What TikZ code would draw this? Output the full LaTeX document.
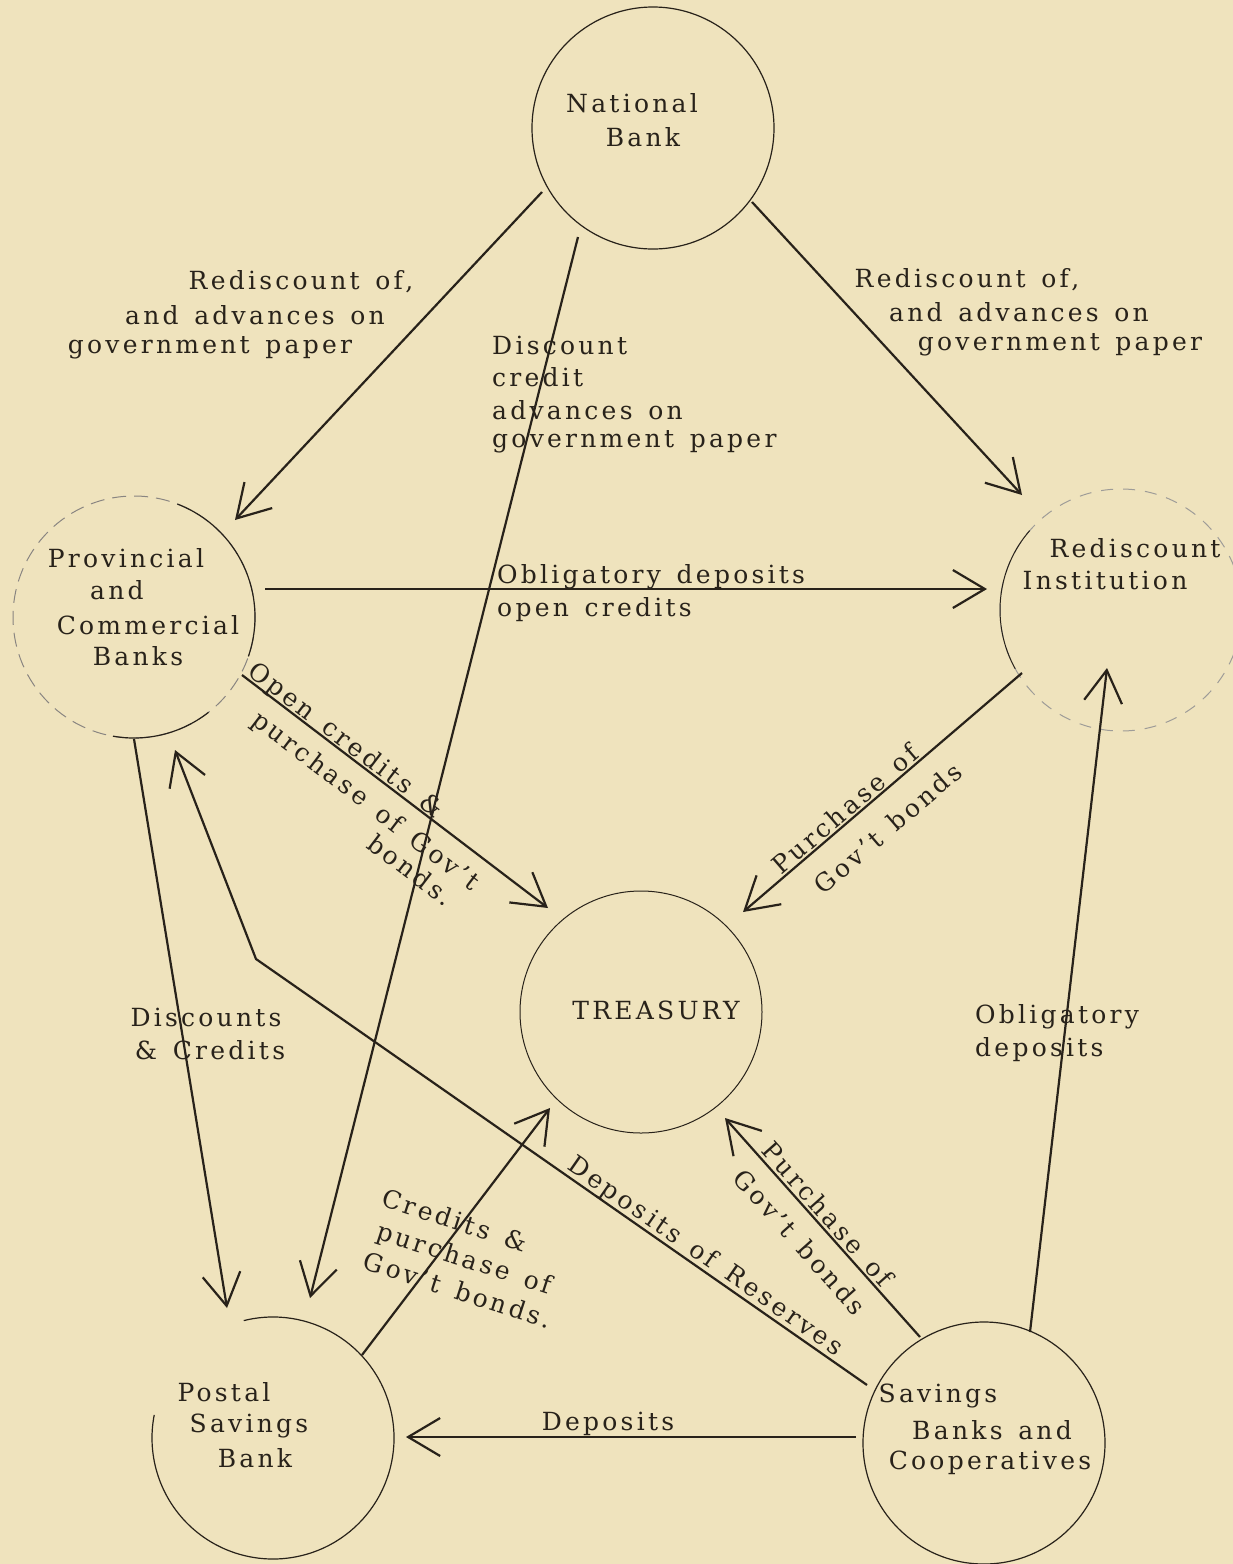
\documentclass[tikz,border=0pt]{standalone}
\usepackage{fontspec}
\setmainfont{DejaVu Serif}[LetterSpace=13,WordSpace=1.4]
\usetikzlibrary{arrows.meta}
\definecolor{paper}{RGB}{239,227,189}
\definecolor{ink}{RGB}{40,34,26}
\def\rr{121pt}

\tikzset{
  bank/.style={circle, draw=ink, line width=1.2pt, minimum size=242pt, inner sep=0pt, outer sep=0pt},
  flow/.style={draw=ink, line width=2.2pt, -{Straight Barb[length=32pt,width=38pt]}},
  lbl/.style={text=ink, inner sep=0pt, font=\fontsize{25}{33}\selectfont},
}

\begin{document}
\begin{tikzpicture}[x=1pt, y=1pt]
\fill[paper] (0,0) rectangle (1233,-1564);
\useasboundingbox (0,0) rectangle (1233,-1564);

% the six institutions
\node[bank] (nb) at (653,-128) {};
\node[bank, draw=ink!55, line width=1pt, dash pattern=on 14pt off 8pt] (pcb) at (134,-617) {};
\node[bank, draw=ink!45, line width=1pt, dash pattern=on 12pt off 10pt] (ri) at (1121,-610) {};
\node[bank, line width=1pt] (tr) at (641,-1012) {};
\node[bank, draw=none] (psb) at (273,-1438) {};
\node[bank] (sbc) at (984,-1443) {};
\draw[ink, line width=1.2pt] (pcb.69) arc[start angle=69, end angle=-19, radius=\rr];
\draw[ink, line width=1.2pt] (pcb.-52) arc[start angle=-52, end angle=-100, radius=\rr];
\draw[ink, line width=1pt] (ri.139) arc[start angle=139, end angle=209, radius=\rr];
\draw[ink, line width=1.2pt] (psb.104) arc[start angle=104, end angle=-191, radius=\rr];

\node[lbl] (nb1) at (632,-103) {National};
\node[lbl] (nb2) at (643,-137) {Bank};
\node[lbl] (pcb1) at (126,-558) {Provincial};
\node[lbl] (pcb2) at (117,-590) {and};
\node[lbl] (pcb3) at (148,-625) {Commercial};
\node[lbl] (pcb4) at (138,-656) {Banks};
\node[lbl] (ri1) at (1135,-548) {Rediscount};
\node[lbl] (ri2) at (1105,-580) {Institution};
\node[lbl] (tr1) at (656,-1010) {TREASURY};
\node[lbl] (psb1) at (224,-1392) {Postal};
\node[lbl] (psb2) at (249,-1426) {Savings};
\node[lbl] (psb3) at (255,-1458) {Bank};
\node[lbl] (sbc1) at (938,-1396) {Savings};
\node[lbl] (sbc2) at (992,-1430) {Banks and};
\node[lbl] (sbc3) at (990,-1463) {Cooperatives};

% flows
\coordinate (kink) at (256,-959);
\draw[flow] ([shift={(-111,-64)}]nb.center) -- ([shift={(101,97)}]pcb.center);
\draw[flow] ([shift={(99,-74)}]nb.center) -- ([shift={(-99,115)}]ri.center);
\draw[flow] ([shift={(-75,-109)}]nb.center) -- ([shift={(37,140)}]psb.center);
\draw[flow] ([shift={(131,28)}]pcb.center) -- ([shift={(-134,21)}]ri.center);
\draw[flow] ([shift={(108,-58)}]pcb.center) -- ([shift={(-93,104)}]tr.center);
\draw[flow] ([shift={(-99,-63)}]ri.center) -- ([shift={(102,100)}]tr.center);
\draw[flow] ([shift={(0,-122)}]pcb.center) -- ([shift={(-46,130)}]psb.center);
\draw[flow] ([shift={(-117,58)}]sbc.center) -- (kink) -- ([shift={(41,-133)}]pcb.center);
\draw[flow] ([shift={(89,83)}]psb.center) -- ([shift={(-91,-96)}]tr.center);
\draw[flow] ([shift={(-64,106)}]sbc.center) -- ([shift={(84,-106)}]tr.center);
\draw[flow] ([shift={(46,111)}]sbc.center) -- ([shift={(-14,-58)}]ri.center);
\draw[flow] ([shift={(-128,6)}]sbc.center) -- ([shift={(133,1)}]psb.center);

% flow labels
\node[lbl] (l1a) at (301,-282) {Rediscount of,};
\node[lbl] (l1b) at (255,-315) {and advances on};
\node[lbl] (l1c) at (210,-348) {government paper};
\node[lbl] (r1a) at (967,-280) {Rediscount of,};
\node[lbl] (r1b) at (1019,-312) {and advances on};
\node[lbl] (r1c) at (1060,-345) {government paper};
\node[lbl, anchor=west] (m1a) at (492,-345) {Discount};
\node[lbl, anchor=west] (m1b) at (492,-377) {credit};
\node[lbl, anchor=west] (m1c) at (492,-410) {advances on};
\node[lbl, anchor=west] (m1d) at (492,-442) {government paper};
\node[lbl, anchor=west] (ob1) at (497,-577) {Obligatory deposits};
\node[lbl, anchor=west] (ob2) at (497,-610) {open credits};
\node[lbl, rotate=-37.3] (oc1) at (345,-741) {Open credits \&};
\node[lbl, rotate=-37.3] (oc2) at (365,-802) {purchase of Gov't};
\node[lbl, rotate=-37.3] (oc3) at (411,-870) {bonds.};
\node[lbl, rotate=40.6] (pr1) at (845,-809) {Purchase of};
\node[lbl, rotate=40.6] (pr2) at (888,-828) {Gov't bonds};
\node[lbl] (dc1) at (206,-1017) {Discounts};
\node[lbl] (dc2) at (210,-1050) {\& Credits};
\node[lbl, anchor=west] (od1) at (975,-1017) {Obligatory};
\node[lbl, anchor=west] (od2) at (975,-1050) {deposits};
\node[lbl, rotate=-18] (cp1) at (455,-1220) {Credits \&};
\node[lbl, rotate=-18] (cp2) at (464,-1260) {purchase of};
\node[lbl, rotate=-18] (cp3) at (458,-1290) {Gov't bonds.};
\node[lbl, rotate=-34.8] (dr) at (705,-1257) {Deposits of Reserves};
\node[lbl, rotate=-48.3] (ps1) at (828,-1214) {Purchase of};
\node[lbl, rotate=-48.3] (ps2) at (800,-1242) {Gov't bonds};
\node[lbl] (dp) at (608,-1424) {Deposits};
\end{tikzpicture}
\end{document}
